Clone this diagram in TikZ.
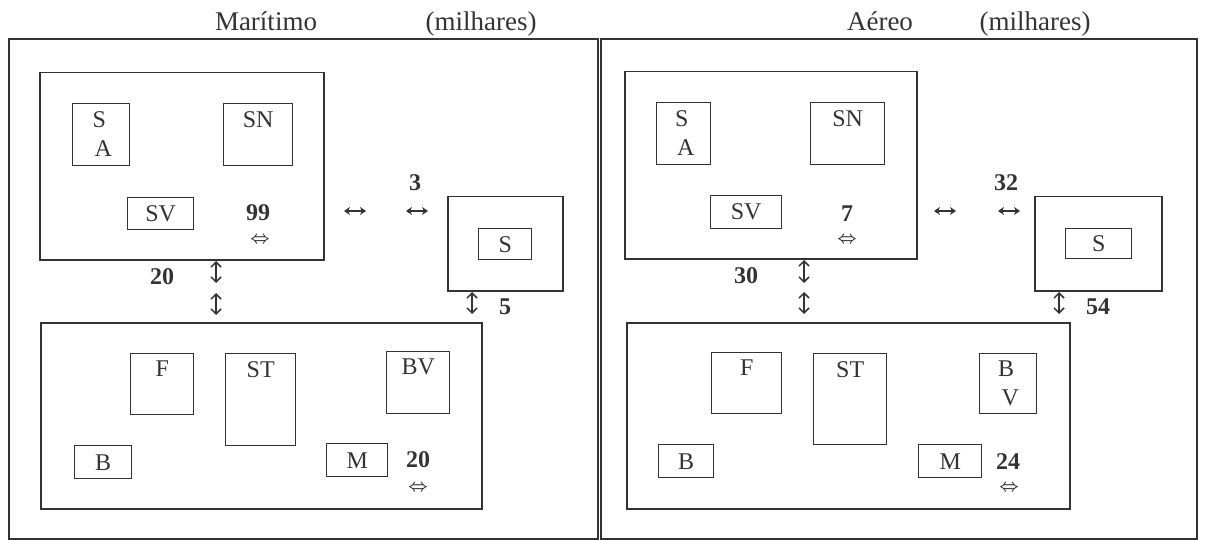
\documentclass[tikz,border=0pt]{standalone}
\usepackage{fontspec}
\setmainfont{Liberation Serif}
\usetikzlibrary{arrows.meta,positioning}
\definecolor{ink}{HTML}{333333}

\begin{document}
\begin{tikzpicture}[
  x=1pt, y=-1pt,
  every node/.style={font=\fontsize{24}{26}\selectfont, text=ink},
  head/.style={font=\fontsize{27}{29}\selectfont, anchor=base, inner sep=0pt},
  frame/.style={draw=ink, line width=2.2pt, anchor=north west, inner sep=0pt},
  grp/.style={draw=ink, line width=1.5pt, anchor=north west, inner sep=0pt},
  unit/.style={draw=ink, line width=1.4pt, anchor=north west, inner sep=0pt},
  toptext/.style={label={[anchor=north, align=center, inner sep=0pt, yshift=-8pt]north:#1}},
  num/.style={font=\fontsize{24}{26}\selectfont\bfseries},
  dbl/.style={font=\fontsize{16}{17}\selectfont\boldmath, inner sep=0pt},
  harrow/.style={{Stealth[length=6pt,width=8pt]}-{Stealth[length=6pt,width=8pt]}, line width=2pt, draw=ink},
  varrow/.style={{Straight Barb[length=5pt,width=10pt]}-{Straight Barb[length=5pt,width=10pt]}, line width=1.5pt, draw=ink}
]
\useasboundingbox (0,0) rectangle (1207,540);

% --- Maritimo ---
\node[head] (titMar) at (266,31) {Marítimo};
\node[head] (unitMar) at (481,31) {(milhares)};
\node[frame, minimum width=589, minimum height=500] (frameMar) at (8,38) {};

\node[grp, minimum width=284, minimum height=187] (upMar) at (39,72) {};
\node[unit, minimum width=57, minimum height=62, toptext={S\hspace*{4pt}\\[3pt]\hspace*{4pt}A}] (saMar) at (72,103) {};
\node[unit, minimum width=69, minimum height=62, toptext=SN] (snMar) at (223,103) {};
\node[unit, minimum width=66, minimum height=32] (svMar) at (127,197) {SV};
\node[num] (nUpMar) at (258,213) {99};
\node[dbl] (dUpMar) at (260,240) {$\Leftrightarrow$};

\node[grp, minimum width=115, minimum height=94] (portMar) at (447,196) {};
\node[unit, minimum width=53, minimum height=31] (sMar) at (478,228) {S};
\node[num] (nPortMar) at (415,183) {3};
\coordinate (h1a) at (344,211); \coordinate (h1b) at (366,211);
\coordinate (h2a) at (406,211); \coordinate (h2b) at (428,211);
\draw[harrow] (h1a) -- (h1b);
\draw[harrow] (h2a) -- (h2b);

\node[num] (nLinkMar) at (162,277) {20};
\coordinate (v1a) at (216,261); \coordinate (v1b) at (216,283);
\coordinate (v2a) at (216,293); \coordinate (v2b) at (216,315);
\draw[varrow] (v1a) -- (v1b);
\draw[varrow] (v2a) -- (v2b);
\coordinate (v3a) at (472,292); \coordinate (v3b) at (472,314);
\draw[varrow] (v3a) -- (v3b);
\node[num] (nPortLowMar) at (505,307) {5};

\node[grp, minimum width=441, minimum height=186] (lowMar) at (40,322) {};
\node[unit, minimum width=63, minimum height=61, toptext=F] (fMar) at (130,353) {};
\node[unit, minimum width=70, minimum height=92, toptext=ST] (stMar) at (225,353) {};
\node[unit, minimum width=63, minimum height=62, toptext=BV] (bvMar) at (386,351) {};
\node[unit, minimum width=57, minimum height=33] (bMar) at (74,445) {B};
\node[unit, minimum width=61, minimum height=33] (mMar) at (326,443) {M};
\node[num] (nLowMar) at (418,460) {20};
\node[dbl] (dLowMar) at (418,488) {$\Leftrightarrow$};

% --- Aereo ---
\node[head] (titAer) at (880,31) {Aéreo};
\node[head] (unitAer) at (1035,31) {(milhares)};
\node[frame, minimum width=596, minimum height=500] (frameAer) at (600,38) {};

\node[grp, minimum width=292, minimum height=187] (upAer) at (624,71) {};
\node[unit, minimum width=54, minimum height=62, toptext={S\hspace*{4pt}\\[3pt]\hspace*{4pt}A}] (saAer) at (656,102) {};
\node[unit, minimum width=74, minimum height=62, toptext=SN] (snAer) at (810,102) {};
\node[unit, minimum width=71, minimum height=33] (svAer) at (710,195) {SV};
\node[num] (nUpAer) at (847,214) {7};
\node[dbl] (dUpAer) at (847,240) {$\Leftrightarrow$};

\node[grp, minimum width=127, minimum height=94] (portAer) at (1034,196) {};
\node[unit, minimum width=66, minimum height=30] (sAer) at (1065,228) {S};
\node[num] (nPortAer) at (1006,183) {32};
\coordinate (h3a) at (934,211); \coordinate (h3b) at (956,211);
\coordinate (h4a) at (998,211); \coordinate (h4b) at (1020,211);
\draw[harrow] (h3a) -- (h3b);
\draw[harrow] (h4a) -- (h4b);

\node[num] (nLinkAer) at (746,276) {30};
\coordinate (v4a) at (804,260); \coordinate (v4b) at (804,283);
\coordinate (v5a) at (804,292); \coordinate (v5b) at (804,314);
\draw[varrow] (v4a) -- (v4b);
\draw[varrow] (v5a) -- (v5b);
\coordinate (v6a) at (1059,292); \coordinate (v6b) at (1059,314);
\draw[varrow] (v6a) -- (v6b);
\node[num] (nPortLowAer) at (1098,307) {54};

\node[grp, minimum width=443, minimum height=186] (lowAer) at (626,322) {};
\node[unit, minimum width=70, minimum height=61, toptext=F] (fAer) at (711,352) {};
\node[unit, minimum width=73, minimum height=91, toptext=ST] (stAer) at (813,353) {};
\node[unit, minimum width=57, minimum height=60, toptext={B\hspace*{4pt}\\[3pt]\hspace*{4pt}V}] (bvAer) at (979,353) {};
\node[unit, minimum width=55, minimum height=33] (bAer) at (658,444) {B};
\node[unit, minimum width=63, minimum height=33] (mAer) at (918,444) {M};
\node[num] (nLowAer) at (1008,462) {24};
\node[dbl] (dLowAer) at (1009,488) {$\Leftrightarrow$};
\end{tikzpicture}
\end{document}
